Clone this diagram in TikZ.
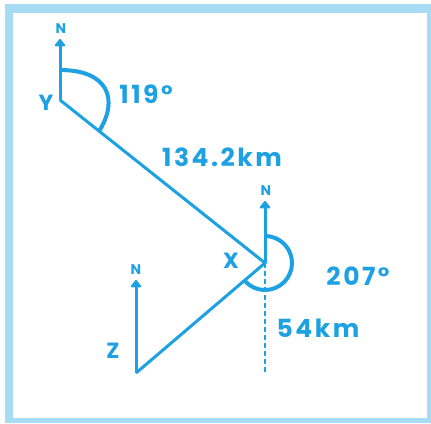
\documentclass[tikz,border=0pt]{standalone}
\usepackage{fontspec}
\setsansfont{Poppins}
\newfontfamily\hand[LetterSpace=10]{Poppins}
\usepackage{tikz}
\usetikzlibrary{arrows.meta,calc}
\usepackage{xcolor}
\definecolor{pen}{HTML}{1DA1E2}
\definecolor{framec}{HTML}{A8DCF5}

\begin{document}
\begin{tikzpicture}[x=1pt,y=1pt,>={Triangle[length=8pt,width=12pt,round]},
  line/.style={pen,line width=3pt},
  ang/.style={pen,line width=4pt},
  lbl/.style={pen,font=\hand\bfseries\fontsize{25}{27}\selectfont},
  ptlbl/.style={pen,font=\hand\bfseries\fontsize{22}{24}\selectfont},
  north/.style={pen,font=\sffamily\bfseries\fontsize{14}{14}\selectfont}]
\useasboundingbox (0,0) rectangle (431,-423);
\fill[framec] (5,-4) rectangle (431,-423);
\fill[white] (13,-13) rectangle (427,-418);
\coordinate (Y) at (60,-100);
\coordinate (X) at (265,-263);
\coordinate (Z) at (136,-373);
\coordinate (Yn) at (60,-39);
\coordinate (Xn) at (265,-201);
\coordinate (Zn) at (136,-280);
\coordinate (Xs) at (265,-373);
\node[north] (nY) at (61,-29) {N};
\node[north] (nX) at (266,-191) {N};
\node[north] (nZ) at (136,-270) {N};
\node[ptlbl] (lY) at (46,-103) {Y};
\node[ptlbl] (lX) at (231,-261) {X};
\node[ptlbl] (lZ) at (113,-351) {Z};
\node[lbl] (aY) at (146,-94) {119°};
\node[lbl] (dYX) at (222,-157) {134.2km};
\node[lbl] (aX) at (358,-276) {207°};
\node[lbl] (dXZ) at (318,-328) {54km};
\draw[line,->] (Y) -- (Yn);
\draw[line,->] (X) -- (Xn);
\draw[line,->] (Z) -- (Zn);
\draw[line] (Y) -- (X) -- (Z);
\draw[line,line width=2.5pt,dash pattern=on 5pt off 3pt] (X) -- (Xs);
% bearings
\draw[ang] (Y) ++(0,30) .. controls +(48,0) and +(20,32) .. ($(Y)!50pt!(X)$);
\draw[ang] (X) ++(0,27) arc[start angle=90,end angle=-137,radius=27];
\end{tikzpicture}
\end{document}
